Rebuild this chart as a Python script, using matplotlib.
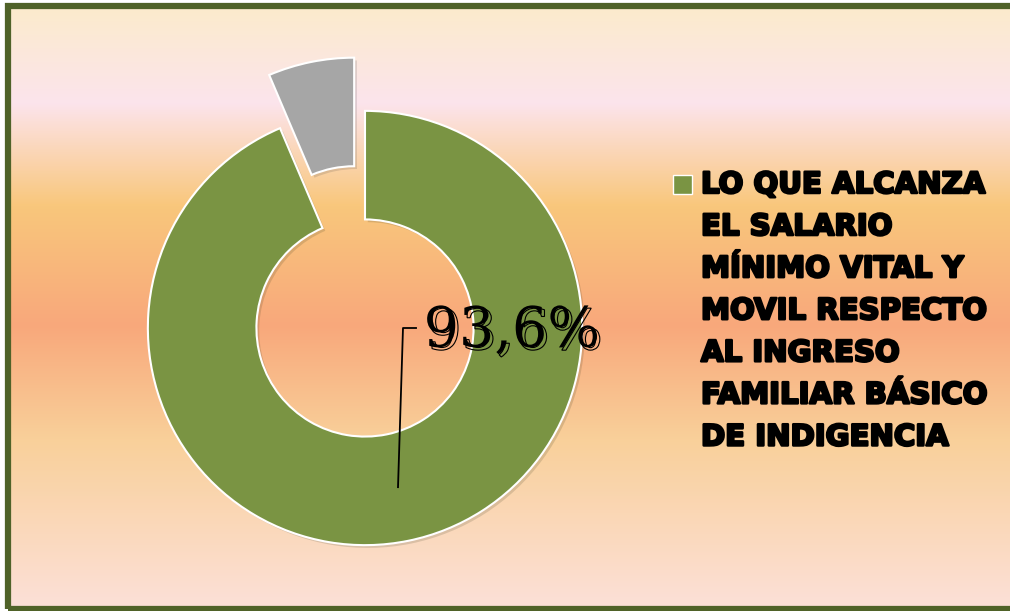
import matplotlib.pyplot as plt
import matplotlib.patheffects as pe
from matplotlib.colors import LinearSegmentedColormap
from matplotlib.patches import Rectangle
import numpy as np

values = [93.6, 6.4]
labels = ['LO QUE ALCANZA\nEL SALARIO\nMÍNIMO VITAL Y\nMOVIL RESPECTO\nAL INGRESO\nFAMILIAR BÁSICO\nDE INDIGENCIA', '']
colors = ['#7A9443', '#A6A6A6']
explode = [0, 0.25]

W, H = 1010, 611
fig = plt.figure(figsize=(W / 100, H / 100), dpi=100)

# background gradient (top -> bottom)
bg_stops = [(0.0, '#FBEBCC'), (0.16, '#FCE4EC'), (0.33, '#F9C77C'),
            (0.53, '#F8A87B'), (0.72, '#F9D09A'), (1.0, '#FCE0D8')]
cmap = LinearSegmentedColormap.from_list('bg', bg_stops)
bg = fig.add_axes([8 / W, 2 / H, 1 - 8 / W, 603 / H])
bg.imshow(np.linspace(0, 1, 256).reshape(-1, 1), aspect='auto', cmap=cmap,
          extent=[0, 1, 0, 1], origin='upper')
bg.axis('off')

# frame
fig.add_artist(Rectangle((8 / W, 2 / H), 1.1, 603 / H, transform=fig.transFigure,
                         fill=False, edgecolor='#4F6228', linewidth=4.5))

# donut
ax = fig.add_axes([61 / W, -21 / H, 608 / W, 608 / H])
wedges, _ = ax.pie(values, colors=colors, startangle=90, counterclock=False,
                   explode=explode, radius=1,
                   wedgeprops=dict(width=0.5, edgecolor='white', linewidth=1.5))
for w in wedges:
    w.set_path_effects([pe.SimplePatchShadow(offset=(2, -2), alpha=0.15), pe.Normal()])
ax.set_xlim(-1.4, 1.4)
ax.set_ylim(-1.4, 1.4)
ax.axis('off')

# data label with leader line
ax.plot([0.152, 0.175, 0.235], [-0.733, 0.0, 0.0], color='black', lw=1.3)
lbl = ('%.1f%%' % values[0]).replace('.', ',')
ax.text(0.27, -0.015, lbl, fontsize=40, family='DejaVu Serif', va='center', ha='left',
        color='black',
        path_effects=[pe.PathPatchEffect(offset=(2, -2), facecolor='none',
                                         edgecolor='black', linewidth=0.8),
                      pe.Normal()])

# legend
fig.add_artist(Rectangle((673 / W, (611 - 194) / H), 19 / W, 19 / H,
                         transform=fig.transFigure, facecolor=colors[0],
                         edgecolor='white', linewidth=1))
fig.text(701 / W, (611 - 171) / H, labels[0], fontsize=21, family='DejaVu Sans',
         fontweight='bold', va='top', ha='left', linespacing=1.64,
         path_effects=[pe.withStroke(linewidth=1.8, foreground='black')])

fig.savefig('out.png', dpi=100)
